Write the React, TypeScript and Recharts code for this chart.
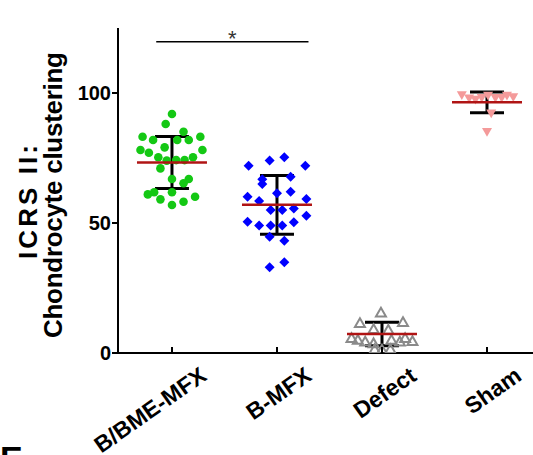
import React from 'react';
import { ComposedChart, Scatter, XAxis, YAxis, ErrorBar, ReferenceLine, ReferenceDot } from 'recharts';

const categories = ['B/BME-MFX', 'B-MFX', 'Defect', 'Sham'];
const yTicks = [0, 50, 100];

const bbmeValues = [91.9, 88.1, 85.1, 83.2, 81.9, 81.9, 81.9, 83.2, 78.1, 77.0, 79.1, 78.1, 75.3, 74.0, 74.2, 74.2, 75.3, 71.0, 66.9, 65.3, 66.9, 61.0, 61.8, 61.8, 59.1, 56.9, 58.2, 60.1];
const bbmeJitter = [0.0, -0.06, 0.11, -0.28, -0.18, 0.05, 0.16, 0.27, -0.30, -0.22, -0.07, 0.29, -0.13, -0.05, 0.04, 0.12, 0.2, -0.11, 0.0, 0.11, 0.16, -0.23, -0.17, 0.0, -0.11, 0.0, 0.11, 0.22];

const bmfxValues = [72.0, 74.0, 75.3, 72.0, 66.8, 65.0, 67.8, 61.4, 62.0, 60.1, 58.5, 59.2, 55.0, 55.0, 55.6, 52.8, 50.5, 49.0, 49.0, 49.0, 50.3, 44.7, 43.2, 33.0, 34.9];
const bmfxJitter = [-0.27, -0.07, 0.07, 0.27, -0.14, -0.14, 0.13, 0.0, 0.13, -0.28, -0.17, 0.28, -0.06, 0.05, 0.16, 0.28, -0.28, -0.17, -0.06, 0.05, 0.16, -0.07, 0.07, -0.07, 0.07];

const defectValues = [15.5, 11.4, 11.8, 9.1, 8.8, 5.7, 5.0, 4.3, 3.7, 5.0, 4.3, 5.7, 1.2, 1.4, 1.4, 4.5];
const defectJitter = [-0.01, -0.21, 0.2, -0.08, 0.06, -0.29, -0.23, -0.16, -0.08, 0.09, 0.17, 0.22, 0.0, 0.08, -0.07, 0.29];

const shamValues = [99.2, 98.0, 97.5, 98.2, 99.0, 98.2, 98.2, 99.0, 92.2, 85.1, 98.5];
const shamJitter = [-0.24, -0.17, -0.11, -0.05, 0.01, 0.08, 0.14, 0.19, 0.04, 0.0, 0.25];

const groupMeans = [73.3, 57.0, 7.3, 96.4];
const groupSD = [10.0, 11.3, 4.5, 4.0];

const sigFrom = 0.85;
const sigTo = 2.3;
const sigY = 119.7;
const sigText = '*';

const yLabelLines = ['ICRS II:', 'Chondrocyte clustering'];
const panelLetter = 'E';

const toPoints = (vals: number[], jit: number[], idx: number) =>
  vals.map((v, i) => ({ x: idx + 1 + jit[i], y: v }));

const bbmeData = toPoints(bbmeValues, bbmeJitter, 0);
const bmfxData = toPoints(bmfxValues, bmfxJitter, 1);
const defectData = toPoints(defectValues, defectJitter, 2);
const shamData = toPoints(shamValues, shamJitter, 3);
const summaryData = groupMeans.map((m, i) => ({ x: i + 1, y: m, sd: groupSD[i] }));

const FONT = '"Liberation Sans", Arial, Helvetica, sans-serif';

const Circle = (p: any) => <circle cx={p.cx} cy={p.cy} r={4.3} fill="#14c814" />;
const Diamond = (p: any) => {
  const s = 5;
  return <polygon points={`${p.cx},${p.cy - s} ${p.cx + s},${p.cy} ${p.cx},${p.cy + s} ${p.cx - s},${p.cy}`} fill="#0000ff" />;
};
const TriUp = (p: any) => {
  const s = 5;
  return (
    <polygon
      points={`${p.cx},${p.cy - s} ${p.cx + s},${p.cy + s * 0.75} ${p.cx - s},${p.cy + s * 0.75}`}
      fill="none"
      stroke="#8a8a8a"
      strokeWidth={2}
    />
  );
};
const TriDown = (p: any) => {
  const s = 5;
  return (
    <polygon
      points={`${p.cx},${p.cy + s} ${p.cx + s},${p.cy - s * 0.75} ${p.cx - s},${p.cy - s * 0.75}`}
      fill="#f49a9a"
    />
  );
};
const MeanLine = (p: any) => (
  <line x1={p.cx - 35} x2={p.cx + 35} y1={p.cy} y2={p.cy} stroke="#b01414" strokeWidth={2.5} />
);

const XTick = (props: any) => {
  const { x, y, payload } = props;
  const label = categories[Math.round(payload.value) - 1];
  return (
    <g>
      <line x1={x} x2={x} y1={y} y2={y - 6} stroke="#000" strokeWidth={2} />
      <text
        transform={`translate(${x + 36},${y + 26}) rotate(-35)`}
        textAnchor="end"
        fontFamily={FONT}
        fontWeight="bold"
        fontSize={23}
        fill="#000"
      >
        {label}
      </text>
    </g>
  );
};

const YLabel = () => (
  <g>
    <text
      transform="translate(37,202) rotate(-90)"
      textAnchor="middle"
      fontFamily={FONT}
      fontWeight="bold"
      fontSize={26}
      fill="#000"
      textLength={114}
      lengthAdjust="spacing"
    >
      {yLabelLines[0]}
    </text>
    <text
      transform="translate(62,195) rotate(-90)"
      textAnchor="middle"
      fontFamily={FONT}
      fontWeight="bold"
      fontSize={26}
      fill="#000"
      textLength={286}
      lengthAdjust="spacing"
    >
      {yLabelLines[1]}
    </text>
  </g>
);

const Star = (p: any) => (
  <text x={p.cx} y={p.cy + 4.7} textAnchor="middle" fontFamily={FONT} fontSize={22} fill="#333">
    {sigText}
  </text>
);

export default function App() {
  return (
    <div style={{ position: 'fixed', left: 0, top: 0, width: 533, height: 455, overflow: 'hidden', background: '#fff' }}>
      <ComposedChart width={533} height={455} margin={{ top: 28, right: 0, bottom: 0, left: 0 }}>
        <XAxis
          type="number"
          dataKey="x"
          domain={[0.486, 4.438]}
          ticks={[1, 2, 3, 4]}
          allowDataOverflow
          height={102}
          tickLine={false}
          tickSize={0}
          tickMargin={0}
          axisLine={{ stroke: '#000', strokeWidth: 2 }}
          tick={<XTick />}
          interval={0}
        />
        <YAxis
          type="number"
          dataKey="y"
          domain={[0, 125]}
          ticks={yTicks}
          allowDataOverflow
          width={118}
          tickSize={6}
          tickMargin={1}
          axisLine={{ stroke: '#000', strokeWidth: 2 }}
          tickLine={{ stroke: '#000', strokeWidth: 2 }}
          tick={{ fill: '#000', fontSize: 20, fontWeight: 'bold', fontFamily: FONT }}
          label={<YLabel />}
        />
        <Scatter data={bbmeData} shape={<Circle />} isAnimationActive={false} />
        <Scatter data={bmfxData} shape={<Diamond />} isAnimationActive={false} />
        <Scatter data={defectData} shape={<TriUp />} isAnimationActive={false} />
        <Scatter data={shamData} shape={<TriDown />} isAnimationActive={false} />
        <Scatter data={summaryData} shape={<MeanLine />} isAnimationActive={false}>
          <ErrorBar dataKey="sd" direction="y" width={17} stroke="#000" strokeWidth={3} isAnimationActive={false} />
        </Scatter>
        <ReferenceLine
          segment={[{ x: sigFrom, y: sigY }, { x: sigTo, y: sigY }]}
          stroke="#000"
          strokeWidth={1.5}
        />
        <ReferenceDot x={(sigFrom + sigTo) / 2} y={sigY} r={0} shape={<Star />} />
      </ComposedChart>
      <div
        style={{
          position: 'absolute',
          left: 0,
          top: 440.5,
          fontFamily: FONT,
          fontSize: 34,
          fontWeight: 'bold',
          lineHeight: '34px',
          color: '#000',
        }}
      >
        {panelLetter}
      </div>
    </div>
  );
}
